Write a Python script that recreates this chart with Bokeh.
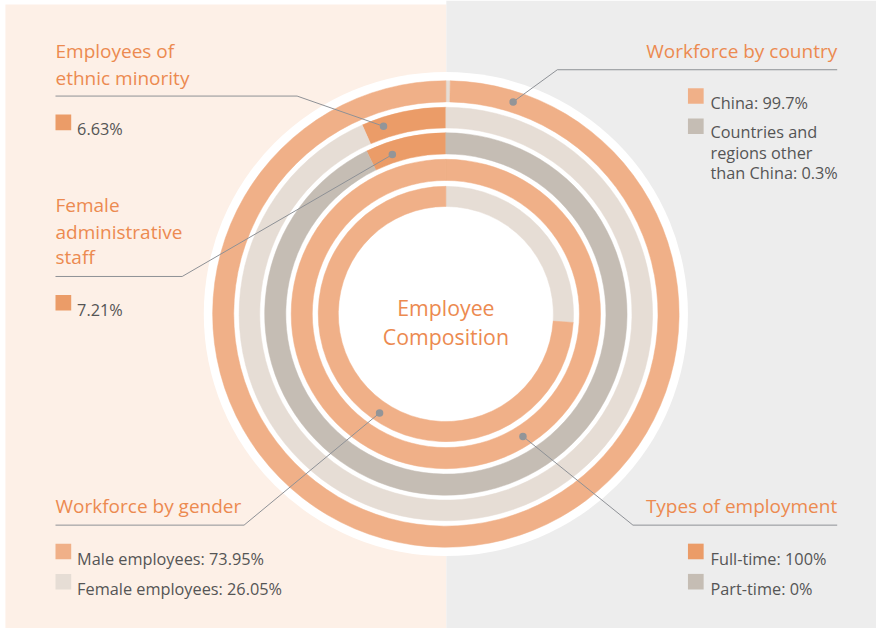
import math
from bokeh.plotting import figure
from bokeh.models import Range1d, ColumnDataSource
from bokeh.core.properties import value
from bokeh.embed import file_html
from bokeh.resources import INLINE

# ---------------- data ----------------
country_labels = ["China", "Countries and regions other than China"]
country_values = [99.7, 0.3]
ethnic_labels = ["Employees of ethnic minority", "Other employees"]
ethnic_values = [6.63, 93.37]
admin_labels = ["Female administrative staff", "Other staff"]
admin_values = [7.21, 92.79]
employment_labels = ["Full-time", "Part-time"]
employment_values = [100, 0]
gender_labels = ["Male employees", "Female employees"]
gender_values = [73.95, 26.05]

# ---------------- style ----------------
PEACH = "#F0B088"
ORANGE = "#EB9C68"
LGREY = "#E6DDD5"
DGREY = "#C5BDB4"
BG_L = "#FDF0E7"
BG_R = "#EDEDED"
TITLE_C = "#EC8A50"
TEXT_C = "#555555"
LINE_C = "#8E9196"
FONT = "Open Sans"

W, H = 892, 644
CX, CY = 453.5, 321.5  # reference-pixel coords of centre


def Y(ys):
    return H - ys


p = figure(width=876, height=628, x_range=Range1d(0, W), y_range=Range1d(0, H),
           output_backend="svg", toolbar_location=None, min_border=0)
p.axis.visible = False
p.grid.visible = False
p.outline_line_color = None
p.background_fill_color = "white"
p.border_fill_color = "white"

# background panels
p.quad(left=[5, 454], right=[454, 892], bottom=[Y(644), Y(644)], top=[Y(4), Y(0)],
       fill_color=[BG_L, BG_R], line_color=None)

# white disc
p.circle(x=[CX], y=[Y(CY)], radius=246.5, fill_color="white", line_color=None)

# rings: (values, colors, inner r, outer r, direction)
rings = [
    (country_values[::-1], [LGREY, PEACH], 216, 237.5, "cw"),
    (ethnic_values, [ORANGE, LGREY], 189.5, 210.5, "ccw"),
    (admin_values, [ORANGE, DGREY], 163, 184.5, "ccw"),
    (employment_values, [PEACH, DGREY], 136, 157.5, "cw"),
    (gender_values[::-1], [LGREY, PEACH], 109.5, 130, "cw"),
]

src = dict(x=[], y=[], ir=[], orr=[], sa=[], ea=[], c=[])
for vals, cols, ir, orr, d in rings:
    tot = sum(vals)
    cum = 0.0
    for v, c in zip(vals, cols):
        if v <= 0:
            continue
        a0 = cum / tot * 360.0
        cum += v
        a1 = min(cum / tot * 360.0, a0 + 359.99)
        if d == "cw":
            sa, ea = 90 - a1, 90 - a0
        else:
            sa, ea = 90 + a0, 90 + a1
        src["x"].append(CX); src["y"].append(Y(CY))
        src["ir"].append(ir); src["orr"].append(orr)
        src["sa"].append(math.radians(sa)); src["ea"].append(math.radians(ea)); src["c"].append(c)

p.annular_wedge(x="x", y="y", inner_radius="ir", outer_radius="orr",
                start_angle="sa", end_angle="ea",
                fill_color="c", line_color="c", line_width=0.5,
                source=ColumnDataSource(src))

# leader lines (reference-pixel coords) and dots
leaders = [
    [(56, 98), (302, 98), (390, 129)],
    [(56, 283), (185, 283), (399, 158)],
    [(852, 71), (567, 71), (522, 104)],
    [(56, 538), (248, 538), (386, 423)],
    [(852, 538), (644, 538), (532, 447)],
]
p.multi_line(xs=[[q[0] for q in l] for l in leaders],
             ys=[[Y(q[1]) for q in l] for l in leaders],
             line_color=LINE_C, line_width=1)
p.scatter(x=[l[-1][0] for l in leaders], y=[Y(l[-1][1]) for l in leaders],
          size=7.5, marker="circle", fill_color="#939598", line_color=None)


def txt(x, y, s, size, color, align="left"):
    p.text(x=[x], y=[Y(y)], text=[s], text_font=value(FONT), text_font_size=size,
           text_color=color, text_align=align, text_baseline="alphabetic")


def sq(x, y, color):
    p.quad(left=[x], right=[x + 16], top=[Y(y)], bottom=[Y(y + 16)],
           fill_color=color, line_color=None)


TS = "19px"
LS = "16.3px"
CS = "21.3px"

# titles
txt(56, 52, "Employees of", TS, TITLE_C)
txt(56, 79, "ethnic minority", TS, TITLE_C)
txt(56, 210, "Female", TS, TITLE_C)
txt(56, 237, "administrative", TS, TITLE_C)
txt(56, 263, "staff", TS, TITLE_C)
txt(852, 52, "Workforce by country", TS, TITLE_C, "right")
txt(56, 518, "Workforce by gender", TS, TITLE_C)
txt(852, 518, "Types of employment", TS, TITLE_C, "right")

# centre
txt(CX, 315, "Employee", CS, TITLE_C, "center")
txt(CX, 345, "Composition", CS, TITLE_C, "center")

# legends
sq(56, 117, ORANGE); txt(78, 132, f"{ethnic_values[0]}%", LS, TEXT_C)
sq(56, 302, ORANGE); txt(78, 317, f"{admin_values[0]}%", LS, TEXT_C)

sq(700, 90, PEACH); txt(723, 105, f"{country_labels[0]}: {country_values[0]}%", LS, TEXT_C)
sq(700, 121, DGREY)
txt(723, 135, "Countries and", LS, TEXT_C)
txt(723, 156, "regions other", LS, TEXT_C)
txt(723, 177, f"than China: {country_values[1]}%", LS, TEXT_C)

sq(56, 557, PEACH); txt(78, 573, f"{gender_labels[0]}: {gender_values[0]}%", LS, TEXT_C)
sq(56, 588, LGREY); txt(78, 603, f"{gender_labels[1]}: {gender_values[1]}%", LS, TEXT_C)

sq(700, 557, ORANGE); txt(723, 573, f"{employment_labels[0]}: {employment_values[0]}%", LS, TEXT_C)
sq(700, 588, DGREY); txt(723, 603, f"{employment_labels[1]}: {employment_values[1]}%", LS, TEXT_C)

open("out.html", "w").write(file_html(p, INLINE))
